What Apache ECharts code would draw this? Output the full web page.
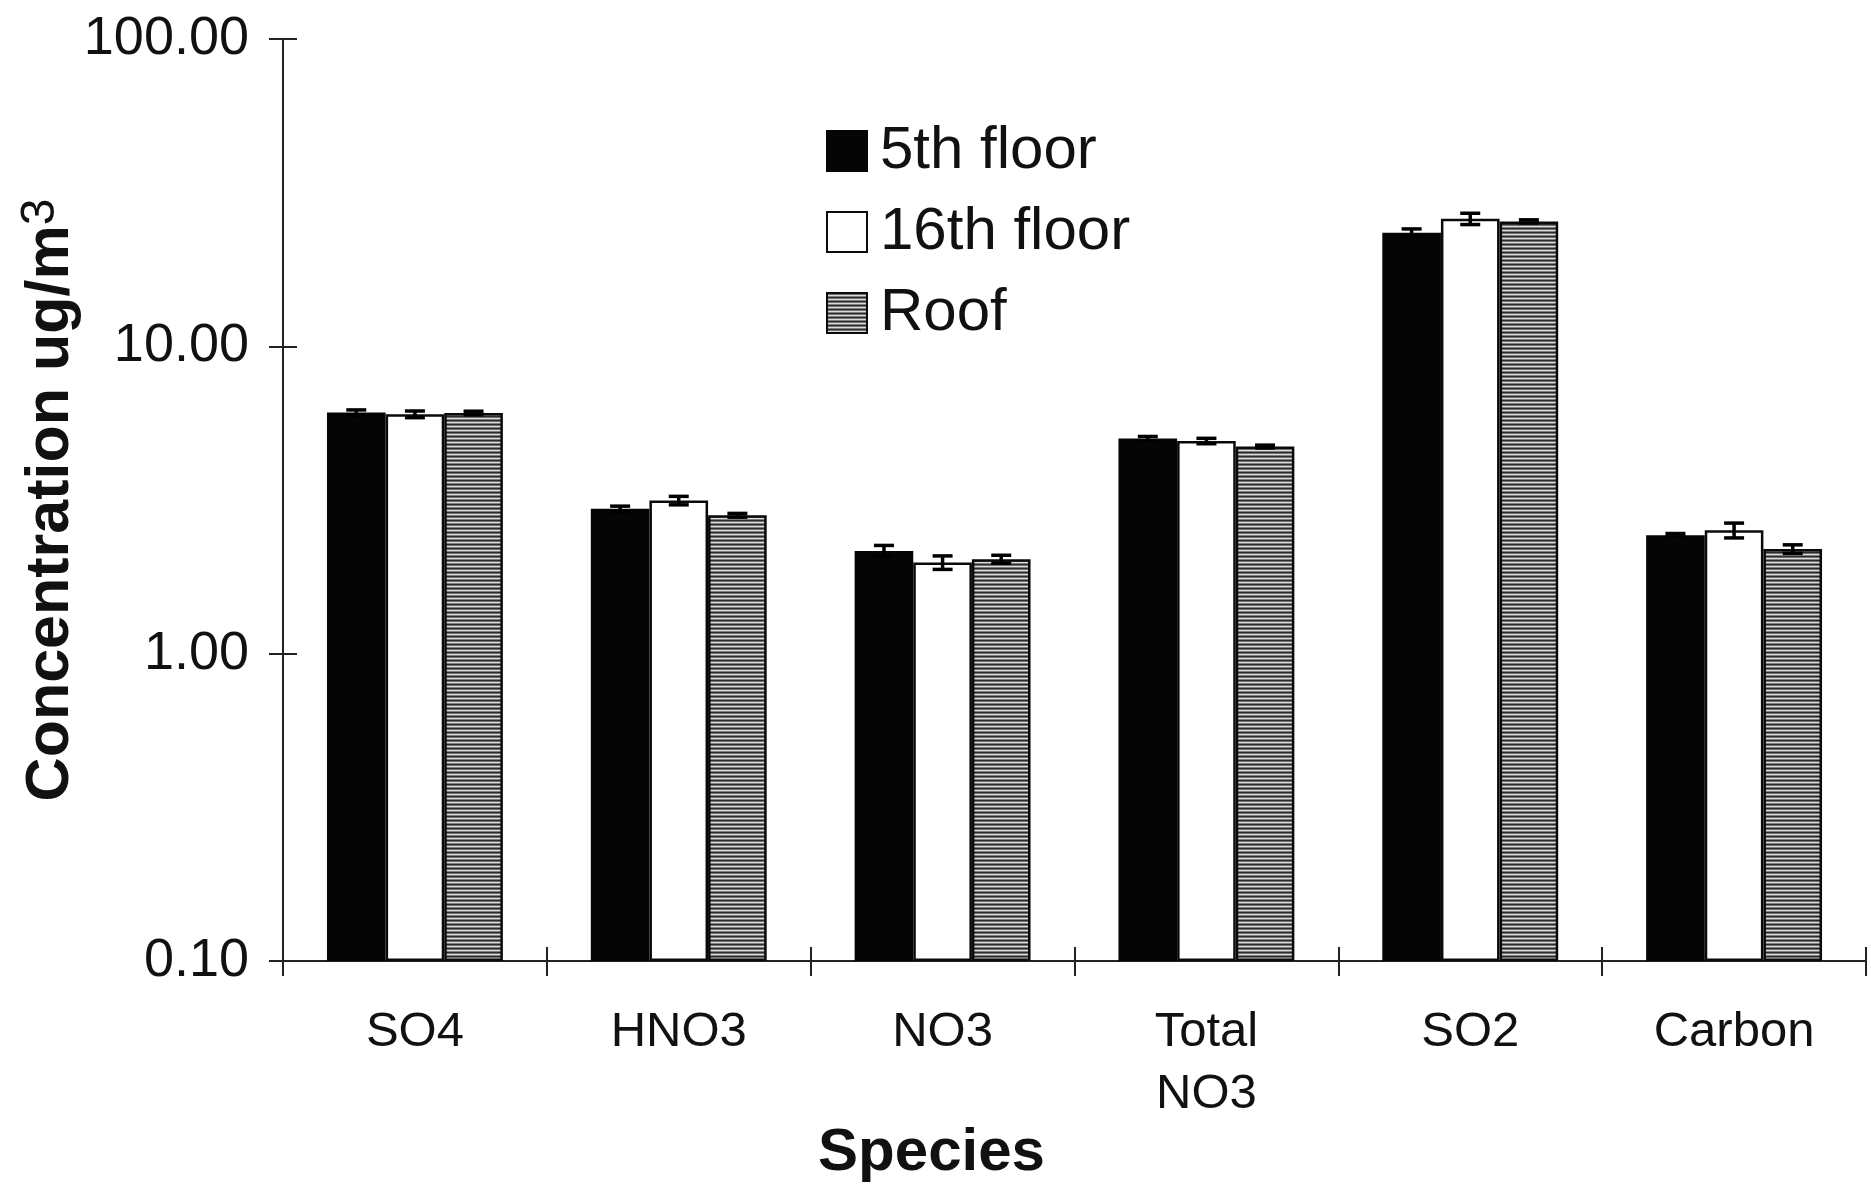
<!DOCTYPE html>
<html>
<head>
<meta charset="utf-8">
<script src="https://cdn.jsdelivr.net/npm/echarts@6/dist/echarts.min.js"></script>
<style>
  html, body { margin: 0; padding: 0; background: #ffffff; }
  #chart { width: 1871px; height: 1185px; }
</style>
</head>
<body>
<div id="chart"></div>
<script>
// Species sampled at three heights of the building
const categories = ['SO4', 'HNO3', 'NO3', 'Total\nNO3', 'SO2', 'Carbon'];
const seriesNames = ['5th floor', '16th floor', 'Roof'];

// Mean concentrations, ug/m3
const fifthFloor = [6.09, 2.96, 2.16, 5.01, 23.4, 2.43];
const sixteenthFloor = [6.01, 3.15, 1.98, 4.92, 26.0, 2.52];
const roof = [6.07, 2.82, 2.03, 4.72, 25.5, 2.19];

// Standard errors
const fifthFloorErr = [0.12, 0.06, 0.09, 0.08, 0.7, 0.03];
const sixteenthFloorErr = [0.15, 0.1, 0.1, 0.1, 1.1, 0.14];
const roofErr = [0.08, 0.04, 0.06, 0.05, 0.3, 0.07];

const yTicks = [0.1, 1, 10, 100];

const FONT = '"Liberation Sans", Arial, Helvetica, sans-serif';
const INK = '#111111';

// Horizontal stripe fill for the roof bars
function stripeFill() {
  const c = document.createElement('canvas');
  c.width = 8; c.height = 4;
  const g = c.getContext('2d');
  ['#2c2c2c', '#707070', '#dcdcdc', '#7e7e7e'].forEach((col, i) => {
    g.fillStyle = col;
    g.fillRect(0, i, 8, 1);
  });
  return { image: c, repeat: 'repeat' };
}

const GROUP_GAP = 1 / 3;

function errorBars(k, vals, errs) {
  return {
    type: 'custom',
    name: 'err-' + k,
    silent: true,
    z: 10,
    data: vals.map((v, i) => [i, v, errs[i]]),
    renderItem(params, api) {
      const i = api.value(0), v = api.value(1), e = api.value(2);
      const band = api.coord([1, v])[0] - api.coord([0, v])[0];
      const barW = band * (1 - GROUP_GAP) / 3;
      const x = api.coord([i, v])[0] + (k - 1) * barW;
      const yTop = api.coord([i, v + e])[1];
      const yBot = api.coord([i, v - e])[1];
      const cap = 10;
      const st = { stroke: '#000', lineWidth: 3.5 };
      return {
        type: 'group',
        children: [
          { type: 'line', shape: { x1: x, y1: yTop, x2: x, y2: yBot }, style: st },
          { type: 'line', shape: { x1: x - cap, y1: yTop, x2: x + cap, y2: yTop }, style: st },
          { type: 'line', shape: { x1: x - cap, y1: yBot, x2: x + cap, y2: yBot }, style: st }
        ]
      };
    }
  };
}

const barBase = {
  type: 'bar',
  barGap: '0%',
  barCategoryGap: (GROUP_GAP * 100).toFixed(2) + '%'
};

const chart = echarts.init(document.getElementById('chart'), null, { renderer: 'canvas' });

chart.setOption({
  backgroundColor: '#ffffff',
  animation: false,
  textStyle: { fontFamily: FONT, color: INK },
  grid: { left: 283, right: 5, top: 39, bottom: 224, containLabel: false, outerBoundsMode: 'none' },
  legend: {
    orient: 'vertical',
    left: 826,
    top: 121,
    padding: 0,
    itemWidth: 40,
    itemHeight: 40,
    itemGap: 21,
    icon: 'rect',
    data: seriesNames,
    textStyle: { fontFamily: FONT, fontSize: 60, color: INK, padding: [0, 0, 0, 8] }
  },
  xAxis: [
    {
      type: 'category',
      data: categories,
      position: 'bottom',
      axisLine: { show: true, lineStyle: { color: '#222', width: 2 } },
      axisTick: { show: true, inside: false, length: 15, lineStyle: { color: '#222', width: 2 } },
      axisLabel: { fontFamily: FONT, fontSize: 49, color: INK, lineHeight: 62, margin: 40, interval: 0 },
      name: 'Species',
      nameLocation: 'middle',
      nameGap: 162,
      nameMoveOverlap: false,
      nameTextStyle: { fontFamily: FONT, fontSize: 60, fontWeight: 'bold', color: INK, padding: [0, 286, 0, 0] }
    },
    {
      type: 'category',
      data: categories,
      position: 'bottom',
      axisLine: { show: false },
      axisTick: { show: true, inside: true, length: 14, lineStyle: { color: '#222', width: 2 } },
      axisLabel: { show: false }
    }
  ],
  yAxis: [
    {
      type: 'log',
      logBase: 10,
      min: yTicks[0],
      max: yTicks[yTicks.length - 1],
      startValue: yTicks[0],
      position: 'left',
      splitLine: { show: false },
      axisLine: { show: true, lineStyle: { color: '#222', width: 2 } },
      axisTick: { show: true, inside: false, length: 14, lineStyle: { color: '#222', width: 2 } },
      axisLabel: {
        fontFamily: FONT, fontSize: 54, color: INK, margin: 34,
        formatter: v => Number(v).toFixed(2)
      },
      name: '{t|Concentration ug/m}{s|3}',
      nameLocation: 'middle',
      nameRotate: 90,
      nameGap: 198,
      nameMoveOverlap: false,
      nameTextStyle: {
        rich: {
          t: { fontFamily: FONT, fontSize: 61, fontWeight: 'bold', color: INK, lineHeight: 68 },
          s: { fontFamily: FONT, fontSize: 48, color: INK, verticalAlign: 'top', lineHeight: 68 }
        }
      }
    },
    {
      type: 'log',
      logBase: 10,
      min: yTicks[0],
      max: yTicks[yTicks.length - 1],
      position: 'left',
      splitLine: { show: false },
      axisLine: { show: false },
      axisTick: { show: true, inside: true, length: 14, lineStyle: { color: '#222', width: 2 } },
      axisLabel: { show: false }
    }
  ],
  series: [
    Object.assign({}, barBase, {
      name: seriesNames[0],
      data: fifthFloor,
      itemStyle: { color: '#050505', borderColor: '#050505', borderWidth: 2 }
    }),
    Object.assign({}, barBase, {
      name: seriesNames[1],
      data: sixteenthFloor,
      itemStyle: { color: '#ffffff', borderColor: '#0a0a0a', borderWidth: 2.5 }
    }),
    Object.assign({}, barBase, {
      name: seriesNames[2],
      data: roof,
      itemStyle: { color: stripeFill(), borderColor: '#0a0a0a', borderWidth: 2.5 }
    }),
    errorBars(0, fifthFloor, fifthFloorErr),
    errorBars(1, sixteenthFloor, sixteenthFloorErr),
    errorBars(2, roof, roofErr)
  ]
});
</script>
</body>
</html>
